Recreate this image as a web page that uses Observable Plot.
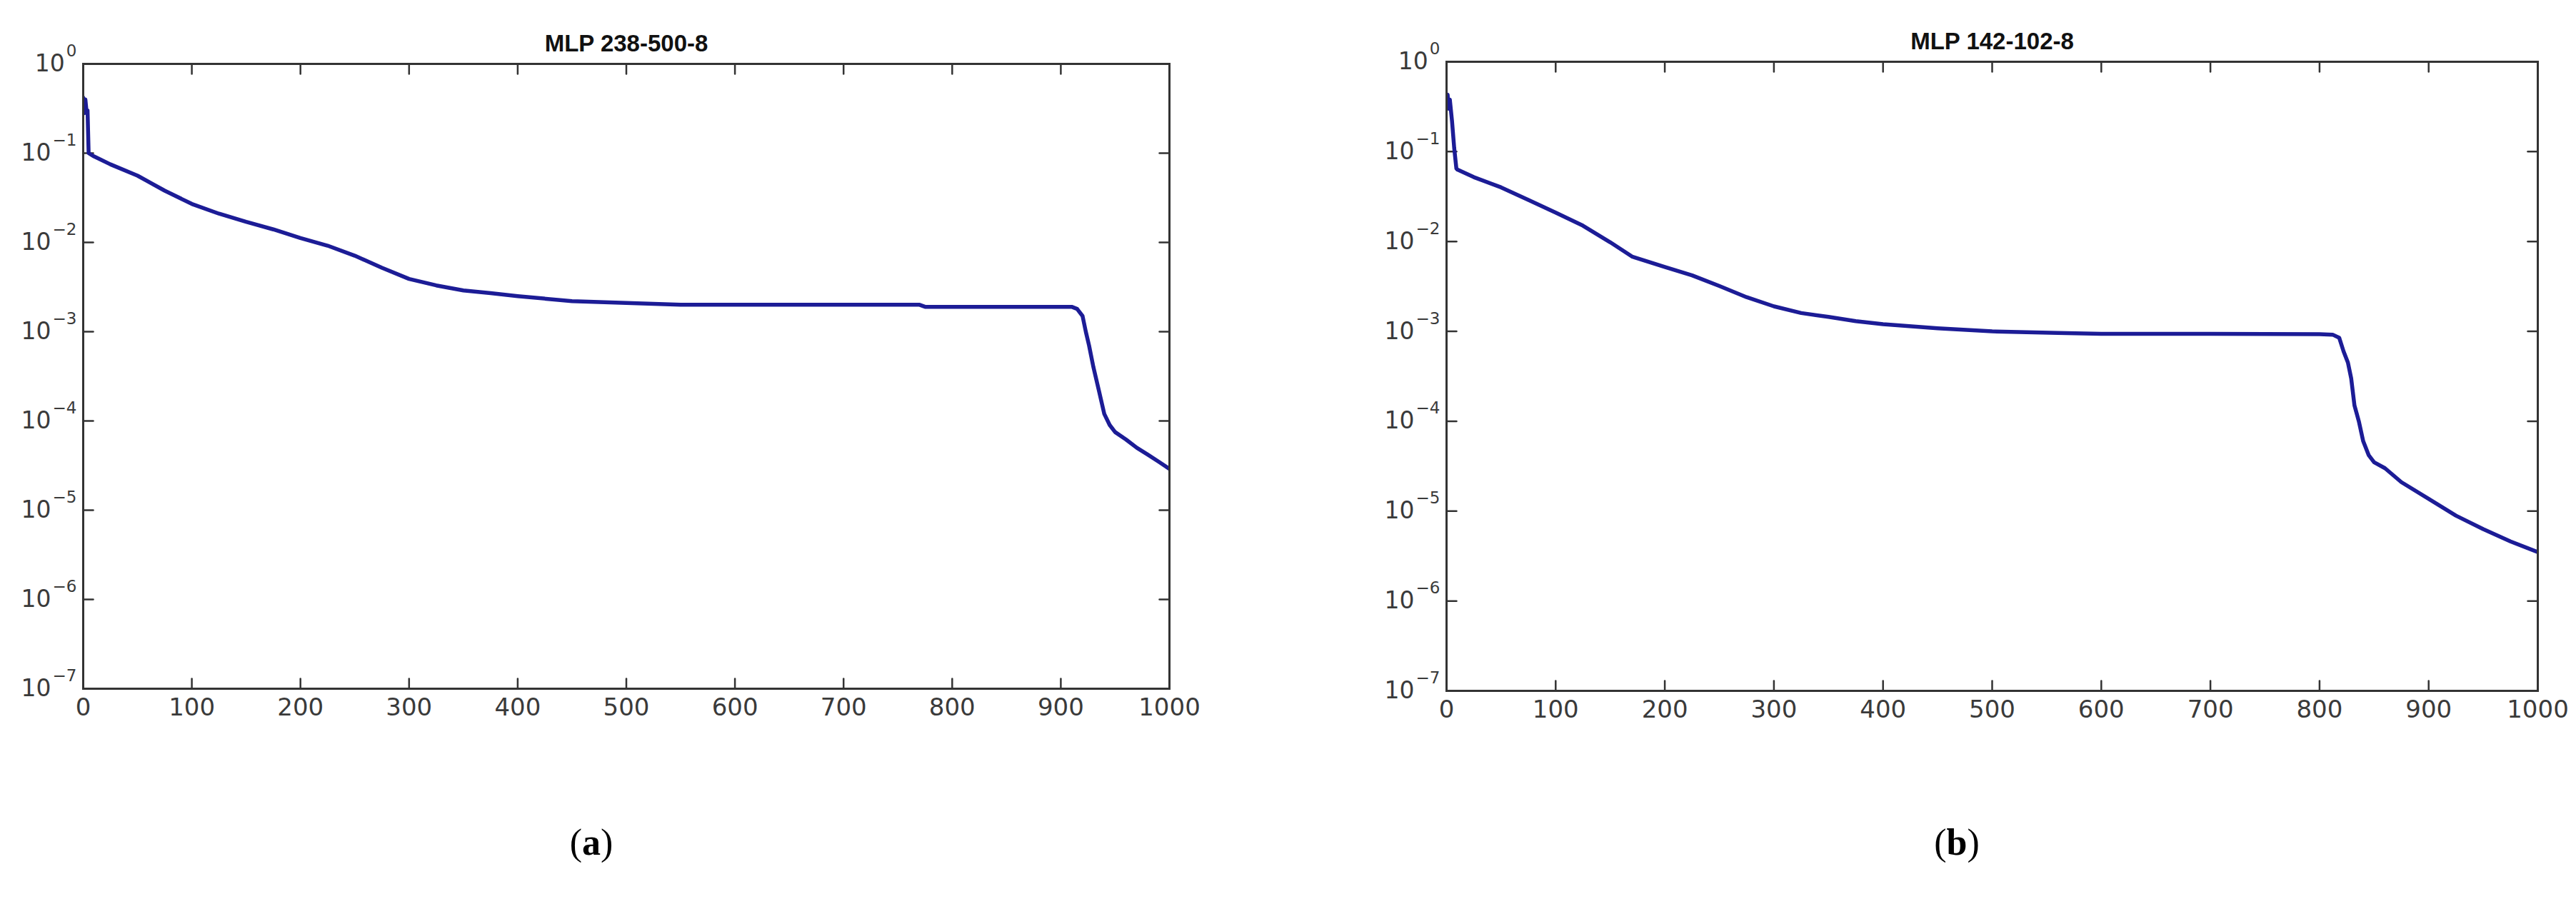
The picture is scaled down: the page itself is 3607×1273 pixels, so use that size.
<!DOCTYPE html>
<html><head><meta charset="utf-8">
<script src="https://cdn.jsdelivr.net/npm/d3@7"></script>
<script src="https://cdn.jsdelivr.net/npm/@observablehq/plot@0.6"></script>
<style>
html,body{margin:0;padding:0;background:#fff;}
#page{position:relative;width:3607px;height:1273px;background:#fff;overflow:hidden;}
.panel{position:absolute;top:0;}
.cap{position:absolute;top:1150px;font-family:"Liberation Serif","Times New Roman",serif;font-size:52px;color:#000;transform:translateX(-50%);white-space:nowrap;}
.cap b{font-weight:bold;}
</style></head><body><div id="page"></div>
<script>
// ---- data ----
const titleA = "MLP 238-500-8";
const titleB = "MLP 142-102-8";
const captionA = "a";
const captionB = "b";
const xTicks = [0, 100, 200, 300, 400, 500, 600, 700, 800, 900, 1000];
const yTicks = [1, 1e-1, 1e-2, 1e-3, 1e-4, 1e-5, 1e-6, 1e-7];

const iterA = [0, 1, 2, 3, 4, 5, 10, 25, 50, 75, 100, 125, 150, 175, 200, 225, 250, 275, 300, 325, 350, 375, 400, 450, 500, 550, 600, 700, 770, 775, 910, 915, 920, 923, 926, 930, 935, 940, 945, 950, 960, 970, 980, 990, 1000];
const lossA = [0.42, 0.28, 0.40, 0.30, 0.30, 0.10, 0.092, 0.075, 0.056, 0.038, 0.027, 0.021, 0.017, 0.014, 0.0112, 0.0092, 0.0071, 0.0052, 0.0039, 0.0033, 0.0029, 0.0027, 0.0025, 0.0022, 0.0021, 0.0020, 0.0020, 0.0020, 0.0020, 0.0019, 0.0019, 0.0018, 0.0015, 0.0010, 0.0007, 0.0004, 0.00022, 0.00012, 0.00009, 0.000075, 0.000062, 0.000050, 0.000042, 0.000035, 0.000029];

const iterB = [0, 1, 2, 3, 5, 7, 9, 10, 25, 50, 75, 100, 125, 150, 170, 200, 225, 250, 275, 300, 325, 350, 375, 400, 450, 500, 560, 600, 700, 800, 812, 818, 822, 826, 829, 832, 836, 840, 845, 850, 860, 875, 900, 925, 950, 975, 1000];
const lossB = [0.40, 0.43, 0.30, 0.38, 0.22, 0.11, 0.065, 0.063, 0.052, 0.040, 0.029, 0.021, 0.015, 0.0098, 0.0068, 0.0052, 0.0042, 0.0032, 0.0024, 0.0019, 0.0016, 0.00145, 0.0013, 0.0012, 0.00108, 0.0010, 0.00096, 0.00094, 0.00094, 0.00093, 0.00092, 0.00085, 0.0006, 0.00045, 0.0003, 0.00015, 0.0001, 0.00006, 0.000042, 0.000035, 0.000030, 0.000021, 0.0000137, 0.0000089, 0.0000063, 0.0000046, 0.0000035];

// ---- drawing ----
const SVGNS = "http://www.w3.org/2000/svg";
const tickLen = 14;
const tickShape = {draw(context, l) { context.moveTo(0, 0); context.lineTo(0, -l); }};
function expFormat(d) {
  const e = Math.round(Math.log10(d));
  return "10|" + (e < 0 ? "\u2212" + (-e) : String(e));
}

function panel(iter, loss, title, box) {
  const rows = iter.map((x, i) => ({x, y: loss[i]}));
  const tickOpts = {length: tickLen, anchor: "start", shape: tickShape, stroke: "#333", strokeWidth: 2.5};
  const svg = Plot.plot({
    width: box.width, height: box.height,
    marginLeft: box.ml, marginRight: box.mr, marginTop: box.mt, marginBottom: box.mb,
    style: {fontFamily: "DejaVu Sans", fontSize: "33px", color: "#3a3a3a", background: "#fff", overflow: "visible"},
    x: {domain: [0, 1000], ticks: xTicks},
    y: {type: "log", domain: [1e-7, 1], ticks: yTicks},
    marks: [
      Plot.axisX({ticks: xTicks, tickSize: 0, tickPadding: 13, fontSize: 34, label: null, tickFormat: d => String(d)}),
      Plot.axisY({ticks: yTicks, tickSize: 0, tickPadding: 9, fontSize: 33, label: null, tickFormat: expFormat}),
      Plot.vector(xTicks, {x: d => d, frameAnchor: "bottom", rotate: 0, ...tickOpts}),
      Plot.vector(xTicks, {x: d => d, frameAnchor: "top", rotate: 180, ...tickOpts}),
      Plot.vector(yTicks, {y: d => d, frameAnchor: "left", rotate: 90, ...tickOpts}),
      Plot.vector(yTicks, {y: d => d, frameAnchor: "right", rotate: -90, ...tickOpts}),
      Plot.line(rows, {x: "x", y: "y", stroke: "#1c1c96", strokeWidth: 5.5, curve: "linear", clip: "frame"}),
      Plot.frame({stroke: "#333", strokeWidth: 3}),
      Plot.text([title], {text: d => d, frameAnchor: "top", dy: -41, fontSize: 33, fontWeight: "bold", fontFamily: "Liberation Sans, Arial, sans-serif", fill: "#111"})
    ]
  });
  // superscript exponents on the log axis labels
  svg.querySelectorAll('g[aria-label="y-axis tick label"] text').forEach(t => {
    const parts = t.textContent.split("|");
    if (parts.length !== 2) return;
    t.textContent = parts[0];
    const ts = document.createElementNS(SVGNS, "tspan");
    ts.setAttribute("dy", "-21");
    ts.setAttribute("font-size", "23");
    ts.setAttribute("dx", "2");
    ts.textContent = parts[1];
    t.appendChild(ts);
  });
  svg.classList.add("panel");
  svg.style.left = box.left + "px";
  return svg;
}

const page = document.getElementById("page");
page.appendChild(panel(iterA, lossA, titleA, {left: 0, width: 1800, height: 1060, ml: 116, mr: 163, mt: 89, mb: 96}));
page.appendChild(panel(iterB, lossB, titleB, {left: 1800, width: 1807, height: 1060, ml: 225, mr: 54, mt: 86, mb: 93}));

function caption(letter, cx) {
  const d = document.createElement("div");
  d.className = "cap";
  d.style.left = cx + "px";
  d.append("(");
  const b = document.createElement("b");
  b.textContent = letter;
  d.append(b);
  d.append(")");
  page.appendChild(d);
}
caption(captionA, 828);
caption(captionB, 2740);
</script></body></html>
